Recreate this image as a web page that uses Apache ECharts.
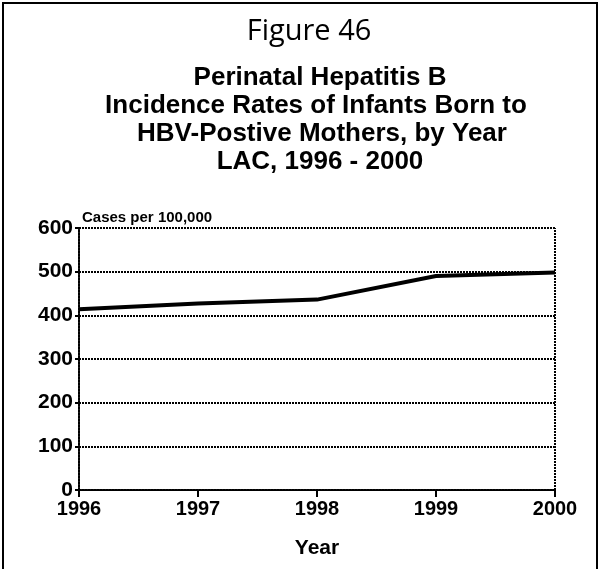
<!DOCTYPE html>
<html><head><meta charset="utf-8">
<script src="https://cdn.jsdelivr.net/npm/echarts@6/dist/echarts.min.js"></script>
<style>html,body{margin:0;padding:0;background:#fff}#c{width:613px;height:569px}</style>
</head><body><div id="c"></div>
<script>
const years = ['1996','1997','1998','1999','2000'];
const rates = [414, 427, 436, 490, 498];
const yTicks = [0, 100, 200, 300, 400, 500, 600];
const titleLines = ['Perinatal Hepatitis B', 'Incidence Rates of Infants Born to', 'HBV-Postive Mothers, by Year', 'LAC, 1996 - 2000'];

const chart = echarts.init(document.getElementById('c'), null, {renderer:'canvas'});
const F = 'Liberation Sans, Arial, sans-serif';
const dotted = {color:'#000', width:2, type:[2,1]};
function tline(txt, x, y){
  return {type:'text', x:x, y:y, style:{text:txt, font:'bold 26px '+F, fill:'#000', textAlign:'center', textVerticalAlign:'middle'}};
}
chart.setOption({
  animation:false,
  backgroundColor:'#fff',
  graphic:[
    {type:'rect', shape:{x:3,y:3,width:594,height:580}, style:{fill:'none', stroke:'#000', lineWidth:2}},
    {type:'text', x:309, y:32, style:{text:'Figure 46', font:'29px "Open Sans", Lato, sans-serif', fill:'#000', textAlign:'center', textVerticalAlign:'middle'}},
    tline(titleLines[0], 320, 78),
    tline(titleLines[1], 316, 106),
    tline(titleLines[2], 322, 134),
    tline(titleLines[3], 320, 162),
    {type:'text', x:82, y:218, style:{text:'Cases per 100,000', font:'bold 15px '+F, fill:'#000', textVerticalAlign:'middle'}}
  ],
  grid:{left:79, right:58, top:228, bottom:79, show:false},
  xAxis:{
    type:'category', data:years, boundaryGap:false,
    axisLine:{show:true, lineStyle:dotted},
    axisTick:{show:true, length:7, lineStyle:{color:'#000', width:2}},
    axisLabel:{color:'#000', fontFamily:F, fontWeight:'bold', fontSize:20, margin:9},
    splitLine:{show:false},
    name:'Year', nameLocation:'middle', nameGap:48,
    nameTextStyle:{color:'#000', fontFamily:F, fontWeight:'bold', fontSize:21}
  },
  yAxis:{
    type:'value', min:yTicks[0], max:yTicks[yTicks.length-1], interval:100,
    axisLine:{show:true, lineStyle:dotted},
    axisTick:{show:true, length:4, lineStyle:{color:'#000', width:2}},
    axisLabel:{color:'#000', fontFamily:F, fontWeight:'bold', fontSize:21, margin:6},
    splitLine:{show:true, lineStyle:dotted}
  },
  series:[
    {type:'line', data:rates, symbol:'none', lineStyle:{color:'#000', width:4}, z:5},
    {type:'line', data:[], markLine:{silent:true, symbol:'none', label:{show:false}, lineStyle:dotted, data:[{xAxis:'2000'}]}}
  ]
});
</script></body></html>
